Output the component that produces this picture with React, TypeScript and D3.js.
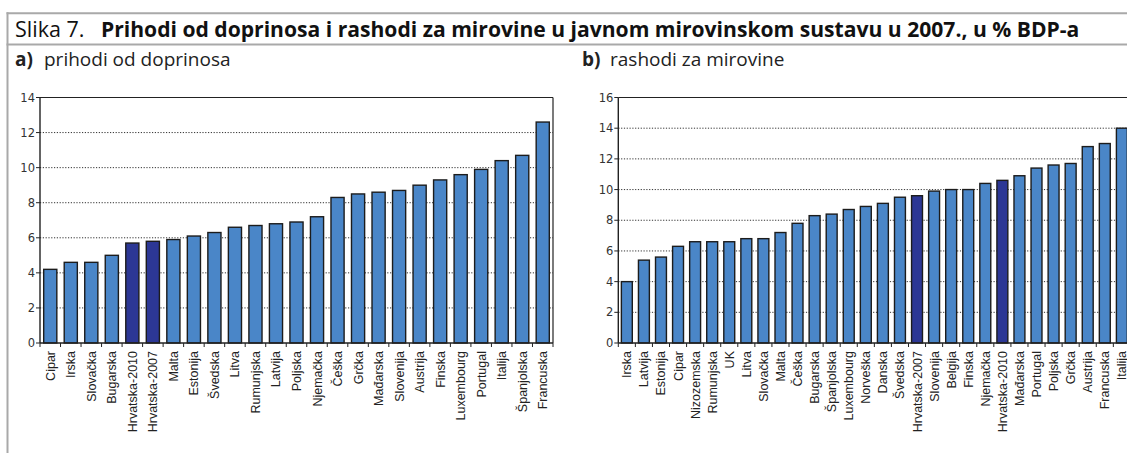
import React from "react";
import * as d3 from "d3";

const W = 1127;
const H = 453;

const titlePrefix = "Slika 7.";
const titleBold = "Prihodi od doprinosa i rashodi za mirovine u javnom mirovinskom sustavu u 2007., u % BDP-a";
const subA = ["a)", "prihodi od doprinosa"];
const subB = ["b)", "rashodi za mirovine"];

const catsA = ["Cipar", "Irska", "Slovačka", "Bugarska", "Hrvatska-2010", "Hrvatska-2007", "Malta", "Estonija", "Švedska", "Litva", "Rumunjska", "Latvija", "Poljska", "Njemačka", "Češka", "Grčka", "Mađarska", "Slovenija", "Austrija", "Finska", "Luxembourg", "Portugal", "Italija", "Španjolska", "Francuska"];
const valsA = [4.2, 4.6, 4.6, 5.0, 5.7, 5.8, 5.9, 6.1, 6.3, 6.6, 6.7, 6.8, 6.9, 7.2, 8.3, 8.5, 8.6, 8.7, 9.0, 9.3, 9.6, 9.9, 10.4, 10.7, 12.6];
const ticksA = [0, 2, 4, 6, 8, 10, 12, 14];

const catsB = ["Irska", "Latvija", "Estonija", "Cipar", "Nizozemska", "Rumunjska", "UK", "Litva", "Slovačka", "Malta", "Češka", "Bugarska", "Španjolska", "Luxembourg", "Norveška", "Danska", "Švedska", "Hrvatska-2007", "Slovenija", "Belgija", "Finska", "Njemačka", "Hrvatska-2010", "Mađarska", "Portugal", "Poljska", "Grčka", "Austrija", "Francuska", "Italija"];
const valsB = [4.0, 5.4, 5.6, 6.3, 6.6, 6.6, 6.6, 6.8, 6.8, 7.2, 7.8, 8.3, 8.4, 8.7, 8.9, 9.1, 9.5, 9.6, 9.9, 10.0, 10.0, 10.4, 10.6, 10.9, 11.4, 11.6, 11.7, 12.8, 13.0, 14.0];
const ticksB = [0, 2, 4, 6, 8, 10, 12, 14, 16];

const highlight = ["Hrvatska-2010", "Hrvatska-2007"];

const FONT = "'Liberation Sans Narrow', 'Liberation Sans', Arial, sans-serif";
const FONT_T = "'Open Sans', 'Liberation Sans', Arial, sans-serif";
const FONT_N = "'DejaVu Sans', 'Liberation Sans', Arial, sans-serif";
const LIGHT = "#4a86c8";
const DARK = "#2c3795";
const FRAME = "#a9a9a9";

type PanelProps = {
  cats: string[];
  vals: number[];
  ticks: number[];
  x0: number;
  x1: number;
  yTop: number;
  yBot: number;
  clipRight: number;
};

function Panel({ cats, vals, ticks, x0, x1, yTop, yBot, clipRight }: PanelProps) {
  const x = d3.scaleBand<string>().domain(cats).range([x0, x1]).paddingInner(0.36).paddingOuter(0.18);
  const y = d3.scaleLinear().domain([0, ticks[ticks.length - 1]]).range([yBot, yTop]);
  const step = x.step();
  const right = Math.min(x1, clipRight);
  const bounds = d3.range(cats.length + 1).map((i) => x0 + i * step);
  return (
    <g>
      {ticks.slice(1, -1).map((t) => (
        <line key={"g" + t} x1={x0} x2={right} y1={y(t)} y2={y(t)} stroke="#333" strokeWidth={1} strokeDasharray="1.2,1.6" />
      ))}
      {cats.map((c, i) => (
        <rect
          key={c}
          x={x(c)}
          y={y(vals[i])}
          width={x.bandwidth()}
          height={y(0) - y(vals[i])}
          fill={highlight.includes(c) ? DARK : LIGHT}
          stroke="#1c1c1c"
          strokeWidth={1.4}
        />
      ))}
      <line x1={x0} x2={right} y1={yTop} y2={yTop} stroke="#222" strokeWidth={1.2} />
      <line x1={x1} x2={x1} y1={yTop} y2={yBot} stroke="#222" strokeWidth={1.2} />
      <line x1={x0} x2={x0} y1={yTop} y2={yBot} stroke="#222" strokeWidth={1.4} />
      <line x1={x0} x2={right} y1={yBot} y2={yBot} stroke="#222" strokeWidth={1.4} />
      {ticks.map((t) => (
        <g key={"t" + t}>
          <line x1={x0 - 4} x2={x0} y1={y(t)} y2={y(t)} stroke="#222" strokeWidth={1} />
          <text x={x0 - 5} y={y(t)} dy="0.36em" textAnchor="end" fontSize={11.5} fontFamily={FONT_N} fill="#333">
            {t}
          </text>
        </g>
      ))}
      {bounds.map((b, i) => (
        <line key={"xt" + i} x1={b} x2={b} y1={yBot} y2={yBot + 4} stroke="#222" strokeWidth={1} />
      ))}
      {cats.map((c) => (
        <text
          key={"l" + c}
          transform={`translate(${(x(c) as number) + x.bandwidth() / 2},${yBot + 8}) rotate(-90)`}
          dy="0.36em"
          textAnchor="end"
          fontSize={12.5}
          fontFamily={FONT}
          fill="#222"
        >
          {c}
        </text>
      ))}
    </g>
  );
}

export default function App() {
  return (
    <svg width={W} height={H} style={{ position: "absolute", left: 0, top: 0, background: "#fff" }}>
      <rect x={0} y={0} width={W} height={H} fill="#fff" />
      <line x1={6.5} x2={W} y1={13.3} y2={13.3} stroke={FRAME} strokeWidth={2} />
      <line x1={7.5} x2={7.5} y1={12.3} y2={H} stroke={FRAME} strokeWidth={2} />
      <line x1={6.5} x2={W} y1={44.5} y2={44.5} stroke={FRAME} strokeWidth={2} />
      <text x={15} y={37} fontSize={21.5} fontFamily={FONT_T} fill="#111">
        {titlePrefix}
        <tspan x={101} fontWeight="bold" fontSize={21.1}>{titleBold}</tspan>
      </text>
      <text x={15} y={66} fontSize={19} fontFamily={FONT_T} fill="#222">
        <tspan fontWeight="bold">{subA[0]}</tspan>
        <tspan x={44}>{subA[1]}</tspan>
      </text>
      <text x={582} y={66} fontSize={19} fontFamily={FONT_T} fill="#222">
        <tspan fontWeight="bold">{subB[0]}</tspan>
        <tspan x={610}>{subB[1]}</tspan>
      </text>
      <Panel cats={catsA} vals={valsA} ticks={ticksA} x0={40} x1={553} yTop={97.5} yBot={343} clipRight={W} />
      <Panel cats={catsB} vals={valsB} ticks={ticksB} x0={618.3} x1={1130.4} yTop={97.5} yBot={343} clipRight={W} />
    </svg>
  );
}
